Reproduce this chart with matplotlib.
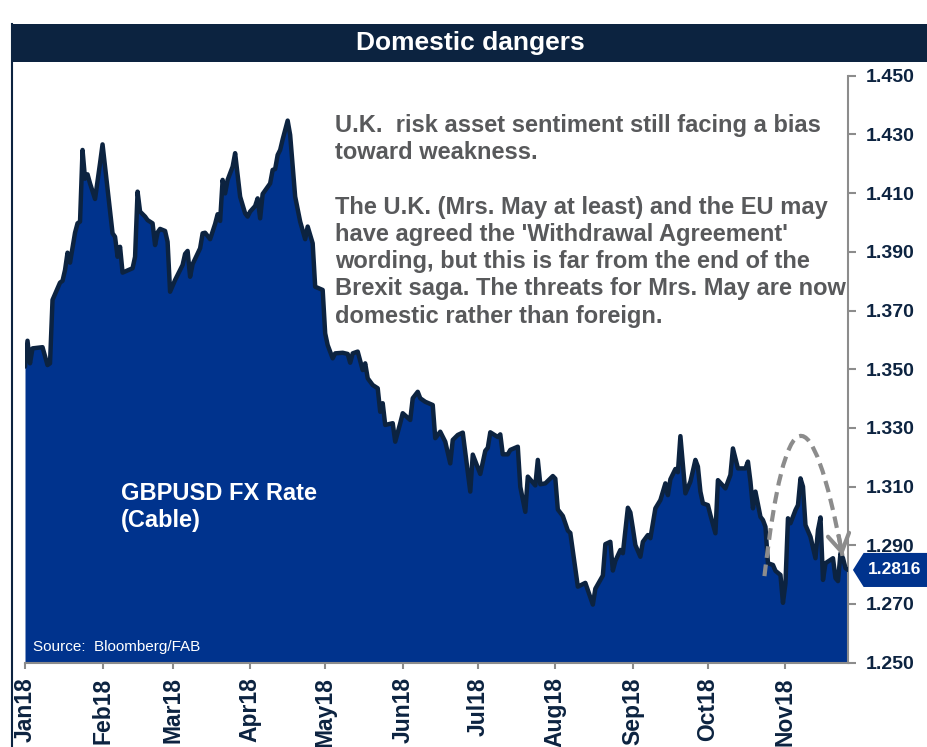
import numpy as np
import pandas as pd
import matplotlib
matplotlib.use("Agg")
import matplotlib.pyplot as plt
import matplotlib.dates as mdates
import matplotlib.transforms as mtransforms
from matplotlib.patches import Rectangle, Polygon, PathPatch
from matplotlib.path import Path
from matplotlib.lines import Line2D

plt.rcParams['font.family'] = ['Liberation Sans', 'DejaVu Sans']
plt.rcParams['font.weight'] = 'bold'

# GBPUSD (2018)
dates = [
    '2018-01-01', '2018-01-02', '2018-01-03', '2018-01-04', '2018-01-08', '2018-01-10', '2018-01-11',
    '2018-01-12', '2018-01-15', '2018-01-16', '2018-01-17', '2018-01-18', '2018-01-19', '2018-01-21',
    '2018-01-22', '2018-01-23', '2018-01-24', '2018-01-25', '2018-01-26', '2018-01-27', '2018-01-29',
    '2018-01-31',
    '2018-02-01', '2018-02-03', '2018-02-05', '2018-02-06', '2018-02-07', '2018-02-08', '2018-02-09',
    '2018-02-13', '2018-02-14', '2018-02-15', '2018-02-16', '2018-02-18', '2018-02-19', '2018-02-21',
    '2018-02-22', '2018-02-23', '2018-02-24', '2018-02-26', '2018-02-27', '2018-02-28',
    '2018-03-02', '2018-03-05', '2018-03-06', '2018-03-07', '2018-03-08', '2018-03-09', '2018-03-12',
    '2018-03-13', '2018-03-14', '2018-03-16', '2018-03-18', '2018-03-19', '2018-03-20', '2018-03-21',
    '2018-03-22', '2018-03-23', '2018-03-25', '2018-03-26', '2018-03-28', '2018-03-30', '2018-03-31',
    '2018-04-01', '2018-04-03', '2018-04-04', '2018-04-05', '2018-04-06', '2018-04-09', '2018-04-10',
    '2018-04-11', '2018-04-12', '2018-04-13', '2018-04-14', '2018-04-16', '2018-04-17', '2018-04-19',
    '2018-04-21', '2018-04-23', '2018-04-24', '2018-04-26', '2018-04-27', '2018-04-30',
    '2018-05-01', '2018-05-02', '2018-05-04', '2018-05-05', '2018-05-08', '2018-05-10', '2018-05-11',
    '2018-05-12', '2018-05-14', '2018-05-16', '2018-05-17', '2018-05-18', '2018-05-20', '2018-05-22',
    '2018-05-23', '2018-05-24', '2018-05-25', '2018-05-28', '2018-05-29', '2018-05-31',
    '2018-06-01', '2018-06-04', '2018-06-05', '2018-06-07', '2018-06-08', '2018-06-10', '2018-06-13',
    '2018-06-14', '2018-06-16', '2018-06-18', '2018-06-20', '2018-06-21', '2018-06-23', '2018-06-25',
    '2018-06-28', '2018-06-29',
    '2018-07-02', '2018-07-04', '2018-07-05', '2018-07-06', '2018-07-09', '2018-07-10', '2018-07-11',
    '2018-07-13', '2018-07-14', '2018-07-17', '2018-07-18', '2018-07-20', '2018-07-21', '2018-07-24',
    '2018-07-25', '2018-07-26', '2018-07-28', '2018-07-31',
    '2018-08-01', '2018-08-02', '2018-08-04', '2018-08-06', '2018-08-07', '2018-08-10', '2018-08-13',
    '2018-08-16', '2018-08-17', '2018-08-20', '2018-08-21', '2018-08-23', '2018-08-24', '2018-08-25',
    '2018-08-27', '2018-08-28', '2018-08-30', '2018-08-31',
    '2018-09-01', '2018-09-02', '2018-09-04', '2018-09-05', '2018-09-07', '2018-09-08', '2018-09-10',
    '2018-09-12', '2018-09-14', '2018-09-15', '2018-09-16', '2018-09-18', '2018-09-19', '2018-09-20',
    '2018-09-22', '2018-09-24', '2018-09-26', '2018-09-27', '2018-09-28', '2018-09-29',
    '2018-10-01', '2018-10-02', '2018-10-04', '2018-10-05', '2018-10-08', '2018-10-10', '2018-10-11',
    '2018-10-13', '2018-10-16', '2018-10-17', '2018-10-18', '2018-10-19', '2018-10-20', '2018-10-22',
    '2018-10-23', '2018-10-24', '2018-10-25', '2018-10-27', '2018-10-28', '2018-10-30', '2018-10-31',
    '2018-11-01', '2018-11-02', '2018-11-03', '2018-11-05', '2018-11-06', '2018-11-07', '2018-11-08',
    '2018-11-09', '2018-11-11', '2018-11-13', '2018-11-14', '2018-11-15', '2018-11-16', '2018-11-17',
    '2018-11-20', '2018-11-21', '2018-11-22', '2018-11-23', '2018-11-24', '2018-11-25', '2018-11-26',
]
rate = [
    1.3509, 1.3597, 1.3520, 1.3571, 1.3575, 1.3514, 1.3520,
    1.3736, 1.3795, 1.3801, 1.3838, 1.3897, 1.3863, 1.3965,
    1.3997, 1.4003, 1.4247, 1.4149, 1.4164, 1.4133, 1.4080,
    1.4202,
    1.4266, 1.4116, 1.3963, 1.3951, 1.3883, 1.3917, 1.3829,
    1.3844, 1.3883, 1.4105, 1.4037, 1.4020, 1.4008, 1.3997,
    1.3923, 1.3966, 1.3978, 1.3971, 1.3934, 1.3764,
    1.3804, 1.3855, 1.3893, 1.3903, 1.3815, 1.3858, 1.3912,
    1.3963, 1.3965, 1.3943, 1.3995, 1.4028, 1.4005, 1.4145,
    1.4099, 1.4145, 1.4190, 1.4236, 1.4088, 1.4031, 1.4020,
    1.4037, 1.4056, 1.4082, 1.4014, 1.4097, 1.4133, 1.4179,
    1.4182, 1.4230, 1.4247, 1.4283, 1.4347, 1.4298, 1.4088,
    1.4003, 1.3943, 1.3986, 1.3929, 1.3781, 1.3770,
    1.3622, 1.3582, 1.3537, 1.3554, 1.3556, 1.3552, 1.3522,
    1.3554, 1.3560, 1.3497, 1.3520, 1.3469, 1.3446, 1.3435,
    1.3355, 1.3384, 1.3310, 1.3316, 1.3253, 1.3316,
    1.3350, 1.3327, 1.3401, 1.3423, 1.3401, 1.3389, 1.3378,
    1.3265, 1.3287, 1.3253, 1.3179, 1.3259, 1.3276, 1.3284,
    1.3083, 1.3209,
    1.3143, 1.3222, 1.3232, 1.3285, 1.3269, 1.3278, 1.3210,
    1.3210, 1.3225, 1.3236, 1.3099, 1.3014, 1.3134, 1.3104,
    1.3191, 1.3108, 1.3111, 1.3136,
    1.3127, 1.3022, 1.3000, 1.2950, 1.2942, 1.2759, 1.2772,
    1.2698, 1.2752, 1.2797, 1.2904, 1.2912, 1.2814, 1.2847,
    1.2884, 1.2873, 1.3028, 1.3012,
    1.2958, 1.2901, 1.2861, 1.2912, 1.2935, 1.2924, 1.3026,
    1.3054, 1.3111, 1.3071, 1.3125, 1.3160, 1.3149, 1.3272,
    1.3077, 1.3117, 1.3191, 1.3168, 1.3083, 1.3043,
    1.3037, 1.3003, 1.2941, 1.3122, 1.3094, 1.3140, 1.3230,
    1.3162, 1.3162, 1.3185, 1.3117, 1.3026, 1.3083, 1.2997,
    1.2986, 1.2963, 1.2839, 1.2833, 1.2813, 1.2799, 1.2704,
    1.2771, 1.2992, 1.2975, 1.3020, 1.3037, 1.3128, 1.3100,
    1.2969, 1.2929, 1.2856, 1.2952, 1.2995, 1.2782, 1.2839,
    1.2856, 1.2788, 1.2778, 1.2873, 1.2856, 1.2822, 1.2816,
]
yticks = [1.250, 1.270, 1.290, 1.310, 1.330, 1.350, 1.370, 1.390, 1.410, 1.430, 1.450]

title = "Domestic dangers"
comment = ("U.K.  risk asset sentiment still facing a bias\n"
           "toward weakness.\n"
           "\n"
           "The U.K. (Mrs. May at least) and the EU may\n"
           "have agreed the 'Withdrawal Agreement'\n"
           "wording, but this is far from the end of the\n"
           "Brexit saga. The threats for Mrs. May are now\n"
           "domestic rather than foreign.")
series_label = "GBPUSD FX Rate\n(Cable)"
source = "Source:  Bloomberg/FAB"

navy = '#0c2340'
blue = '#00338d'
grey = '#8c8c8c'
text_grey = '#58595b'

t = pd.to_datetime(dates)
W, H = 928, 747

fig = plt.figure(figsize=(W / 100, H / 100), dpi=100)
ax = fig.add_axes([25 / W, 84.3 / H, 823 / W, 587 / H])

ax.fill_between(t, rate, yticks[0], color=blue, lw=0, zorder=2)
ax.plot(t, rate, color=navy, lw=3.2, solid_joinstyle='round', solid_capstyle='round', zorder=3)

ax.set_xlim(pd.Timestamp('2018-01-01'), t[-1])
ax.set_ylim(yticks[0], yticks[-1])
ax.set_yticks(yticks)
ax.yaxis.set_major_formatter(plt.FormatStrFormatter('%.3f'))
ax.yaxis.tick_right()
ax.xaxis.set_major_locator(mdates.MonthLocator())
ax.xaxis.set_major_formatter(mdates.DateFormatter('%b%y'))

for s in ['top', 'left']:
    ax.spines[s].set_visible(False)
for s in ['right', 'bottom']:
    ax.spines[s].set_color(grey)
    ax.spines[s].set_linewidth(1.5)
ax.tick_params(axis='y', direction='out', length=6, width=1.5, color=grey,
               pad=7, labelsize=14, labelcolor=navy)
ax.tick_params(axis='x', direction='out', length=4.5, width=1.5, color=grey,
               pad=6, labelsize=16.5, labelcolor=navy, labelrotation=90)

# dashed arc with open arrow head
base = mdates.date2num(pd.Timestamp('2018-01-01'))
arc_x = [base + 295.6, base + 308.0, base + 326.8]
arc_y = [1.2795, 1.3715, 1.2864]
arc = Path(list(zip(arc_x, arc_y)), [Path.MOVETO, Path.CURVE3, Path.CURVE3])
ax.add_patch(PathPatch(arc, fill=False, edgecolor=grey, lw=3,
                       linestyle=(0, (2.8, 1.6)), zorder=4, capstyle='butt'))
back = 0.08
ax.annotate('', xy=(arc_x[2], arc_y[2]),
            xytext=(arc_x[2] - back * (arc_x[2] - arc_x[1]), arc_y[2] - back * (arc_y[2] - arc_y[1])),
            arrowprops=dict(arrowstyle='->,head_length=0.9,head_width=0.55', color=grey,
                            lw=3, mutation_scale=14, shrinkA=0, shrinkB=0), zorder=4)

# last value tag
last = rate[-1]
blend = mtransforms.blended_transform_factory(ax.transAxes, ax.transData)
h = 0.0058
tag = Polygon([(1.006, last), (1.019, last + h), (1.2, last + h), (1.2, last - h), (1.019, last - h)],
              closed=True, transform=blend, facecolor=blue, edgecolor='none', clip_on=False, zorder=6)
ax.add_patch(tag)
ax.text(1.057, last, f'{last:.4f}', transform=blend, ha='center', va='center',
        color='white', fontsize=12.5, zorder=7, clip_on=False)

# title band and frame
fig.patches.append(Rectangle((12 / W, 1 - 62 / H), 1, 38 / H, transform=fig.transFigure,
                             facecolor=navy, edgecolor='none', zorder=0))
fig.lines.append(Line2D([12 / W, 12 / W], [0, 1 - 24 / H], transform=fig.transFigure,
                        color=navy, lw=1.5))
fig.text(470 / W, 1 - 43 / H, title, ha='center', va='center', color='white', fontsize=19)

fig.text(335 / W, 1 - 114 / H, comment, ha='left', va='top', color=text_grey,
         fontsize=17, linespacing=1.235)
fig.text(121 / W, 1 - 482 / H, series_label, ha='left', va='top', color='white',
         fontsize=17, linespacing=1.2)
fig.text(33 / W, 1 - 647 / H, source, ha='left', va='center', color='white',
         fontsize=11, fontweight='normal', family=['Liberation Sans Narrow', 'Liberation Sans'])

fig.savefig('out.png', dpi=100)
